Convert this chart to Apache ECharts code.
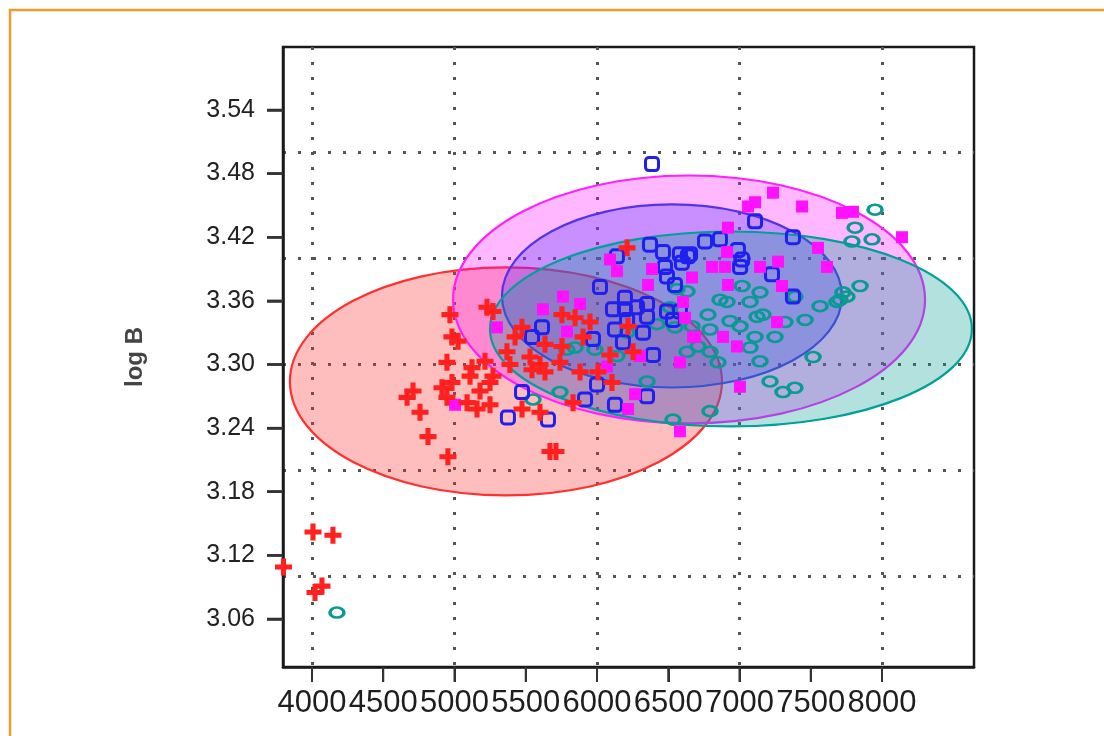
<!DOCTYPE html>
<html>
<head>
<meta charset="utf-8">
<script src="https://cdn.jsdelivr.net/npm/echarts@6/dist/echarts.min.js"></script>
<style>
html,body{margin:0;padding:0;background:#fff;}
#chart{width:1104px;height:736px;}
</style>
</head>
<body>
<div id="chart"></div>
<script>
// ---- tick labels / grid positions ----
var xTickValues = [4000, 4500, 5000, 5500, 6000, 6500, 7000, 7500, 8000];
var xGridValues = [4000, 5000, 6000, 7000, 8000];
var yTickValues = [3.06, 3.12, 3.18, 3.24, 3.30, 3.36, 3.42, 3.48, 3.54];
var yGridValues = [3.10, 3.20, 3.30, 3.40, 3.50];
var yAxisTitle = 'log B';

// ---- ellipses: [centerX, centerY, radiusX, radiusY] ----
var redEllipse = [5361, 3.284, 1516, 0.1075];
var magentaEllipse = [6646, 3.3613, 1656, 0.1169];
var blueEllipse = [6526, 3.3646, 1193, 0.0863];
var tealEllipse = [6940, 3.3335, 1691, 0.0919];

// ---- points ----
var redPoints = [
  [3800, 3.109], [4007, 3.142], [4147, 3.139], [4070, 3.091], [4021, 3.085],
  [6211, 3.410], [5270, 3.350], [5228, 3.354], [4968, 3.347], [4982, 3.326],
  [5025, 3.322], [4947, 3.302], [5123, 3.297], [5109, 3.289], [5214, 3.303],
  [5270, 3.289], [5249, 3.283], [5179, 3.275], [5368, 3.312], [5389, 3.300],
  [4912, 3.278], [4982, 3.283], [4947, 3.269], [4709, 3.275], [4667, 3.269],
  [4758, 3.255], [5088, 3.264], [5158, 3.258], [4814, 3.232], [4954, 3.213],
  [5754, 3.347], [5846, 3.344], [5951, 3.340], [5474, 3.335], [5425, 3.326],
  [5635, 3.319], [5754, 3.317], [5902, 3.326], [5530, 3.307], [5600, 3.300],
  [5740, 3.302], [5881, 3.293], [5635, 3.293], [5544, 3.295], [6091, 3.309],
  [6253, 3.312], [6105, 3.283], [5832, 3.264], [5474, 3.258], [5600, 3.255],
  [5670, 3.218], [5712, 3.218], [6218, 3.336], [5249, 3.262], [6007, 3.293]
];
var magentaPoints = [
  [5004, 3.262], [5298, 3.335], [6091, 3.399], [6140, 3.388], [5761, 3.364],
  [5881, 3.357], [5621, 3.352], [5789, 3.331], [6386, 3.390], [6358, 3.375],
  [6667, 3.382], [6604, 3.359], [6674, 3.326], [6582, 3.302], [6070, 3.298],
  [6302, 3.308], [6267, 3.272], [6218, 3.258], [6618, 3.344], [7235, 3.462],
  [7109, 3.453], [7060, 3.449], [7439, 3.449], [7719, 3.443], [7796, 3.444],
  [6919, 3.429], [8140, 3.420], [7551, 3.410], [7614, 3.392], [6912, 3.406],
  [6807, 3.392], [6898, 3.392], [7144, 3.392], [7270, 3.397], [6919, 3.375],
  [7298, 3.374], [6884, 3.326], [6982, 3.317], [7263, 3.340], [6688, 3.326],
  [7003, 3.279], [6582, 3.237]
];
var bluePoints = [
  [6386, 3.489], [6372, 3.413], [6463, 3.406], [6582, 3.404], [6653, 3.404],
  [6596, 3.396], [6140, 3.402], [6021, 3.373], [6477, 3.392], [6491, 3.383],
  [6547, 3.375], [6196, 3.363], [6112, 3.352], [6196, 3.352], [6281, 3.354],
  [6351, 3.357], [6351, 3.345], [6211, 3.342], [6126, 3.333], [6323, 3.330],
  [6491, 3.350], [6533, 3.342], [5972, 3.324], [5614, 3.335], [5544, 3.326],
  [6182, 3.321], [6393, 3.309], [6000, 3.281], [5916, 3.267], [6126, 3.262],
  [6351, 3.270], [5474, 3.274], [5375, 3.250], [5656, 3.248], [7109, 3.435],
  [7375, 3.420], [6863, 3.418], [7018, 3.399], [6638, 3.402], [7004, 3.392],
  [7375, 3.364], [6582, 3.350], [6758, 3.416], [6989, 3.408], [7228, 3.385]
];
var tealPoints = [
  [4175, 3.066], [7951, 3.446], [7811, 3.429], [7930, 3.418], [7789, 3.416],
  [7846, 3.374], [7726, 3.368], [7389, 3.364], [7144, 3.368], [7018, 3.374],
  [6912, 3.359], [7074, 3.359], [6779, 3.347], [6933, 3.341], [7004, 3.336],
  [7123, 3.345], [7165, 3.347], [7460, 3.342], [7319, 3.340], [7565, 3.355],
  [7705, 3.361], [7754, 3.364], [7684, 3.359], [7109, 3.326], [7249, 3.326],
  [7074, 3.316], [7144, 3.303], [6849, 3.302], [6632, 3.312], [6793, 3.312],
  [7516, 3.307], [7214, 3.284], [7305, 3.274], [7389, 3.278], [6793, 3.256],
  [6561, 3.371], [6632, 3.369], [6512, 3.354], [6421, 3.338], [6547, 3.335],
  [6667, 3.336], [6211, 3.330], [6140, 3.308], [5846, 3.316], [5789, 3.314],
  [5740, 3.274], [5551, 3.267], [6351, 3.284], [6533, 3.248], [6709, 3.317],
  [5986, 3.314], [6793, 3.333], [6863, 3.361]
];

var ellipseStyles = [
  {fill: 'rgba(255,40,40,0.30)', stroke: '#ff3030'},
  {fill: 'rgba(255,0,255,0.28)', stroke: '#ff20ff'},
  {fill: 'rgba(80,50,255,0.30)', stroke: '#5233ea'},
  {fill: 'rgba(0,155,145,0.30)', stroke: '#00a098'}
];
var ellipses = [redEllipse, magentaEllipse, blueEllipse, tealEllipse];

var chart = echarts.init(document.getElementById('chart'), null, {renderer: 'canvas'});

var gridDots = {color: '#555', width: 3, type: [3, 12]};
var XMIN = 3796.5, XMAX = 8645.6, YMIN = 3.0147, YMAX = 3.5994;
var FONT = 'Liberation Sans, Arial, sans-serif';
var X_TICK_LEN = 15, Y_TICK_LEN = 16;

var option = {
  backgroundColor: '#fff',
  animation: false,
  graphic: [{
    type: 'rect', id: 'frame', z: 100,
    shape: {x: 10, y: 10, width: 1300, height: 900},
    style: {fill: 'none', stroke: '#f29a2e', lineWidth: 2.5}
  }],
  grid: {
    left: 283, top: 47, width: 691, height: 620,
    show: true, borderColor: '#1a1a1a', borderWidth: 2.5, backgroundColor: 'transparent'
  },
  xAxis: [{
    type: 'value', min: XMIN, max: XMAX, position: 'bottom',
    axisLine: {show: true, lineStyle: {color: '#1a1a1a', width: 2.5}},
    axisTick: {show: true, length: X_TICK_LEN, customValues: xTickValues, lineStyle: {color: '#333', width: 2}},
    axisLabel: {
      customValues: xTickValues, margin: 21, hideOverlap: false,
      showMinLabel: true, showMaxLabel: true,
      formatter: function (v) { return String(v); },
      fontFamily: FONT, fontSize: 31, color: '#1e1e1e'
    },
    splitLine: {show: false}
  }, {
    type: 'value', min: XMIN, max: XMAX, position: 'top',
    axisLine: {show: false}, axisLabel: {show: false},
    axisTick: {show: false, customValues: xGridValues},
    splitLine: {show: true, lineStyle: gridDots}
  }],
  yAxis: [{
    type: 'value', min: YMIN, max: YMAX, position: 'left',
    name: yAxisTitle, nameLocation: 'middle', nameRotate: 90, nameGap: 136,
    nameTextStyle: {fontFamily: FONT, fontSize: 24, fontWeight: 'bold', color: '#444'},
    axisLine: {show: true, lineStyle: {color: '#1a1a1a', width: 2.5}},
    axisTick: {show: true, length: Y_TICK_LEN, customValues: yTickValues, lineStyle: {color: '#333', width: 2.5}},
    axisLabel: {
      customValues: yTickValues, margin: 28, hideOverlap: false,
      showMinLabel: true, showMaxLabel: true,
      formatter: function (v) { return v.toFixed(2); },
      fontFamily: FONT, fontSize: 25, color: '#222'
    },
    splitLine: {show: false}
  }, {
    type: 'value', min: YMIN, max: YMAX, position: 'right',
    axisLine: {show: false}, axisLabel: {show: false},
    axisTick: {show: false, customValues: yGridValues},
    splitLine: {show: true, lineStyle: gridDots}
  }],
  series: [
    {
      type: 'custom', xAxisIndex: 0, yAxisIndex: 0, z: 1,
      data: ellipses.map(function (e, i) { return [e[0], e[1], e[2], e[3], i]; }),
      renderItem: function (params, api) {
        var c = api.coord([api.value(0), api.value(1)]);
        var s = api.size([api.value(2), api.value(3)]);
        var st = ellipseStyles[api.value(4)];
        return {
          type: 'ellipse',
          shape: {cx: c[0], cy: c[1], rx: s[0], ry: s[1]},
          style: {fill: st.fill, stroke: st.stroke, lineWidth: 2.2}
        };
      },
      silent: true
    },
    {
      type: 'scatter', z: 3, data: tealPoints,
      symbol: 'circle', symbolSize: [14, 10],
      itemStyle: {color: 'rgba(0,0,0,0)', borderColor: '#0b9a92', borderWidth: 3, opacity: 1}
    },
    {
      type: 'scatter', z: 4, data: bluePoints,
      symbol: 'roundRect', symbolSize: 13,
      itemStyle: {color: 'rgba(0,0,0,0)', borderColor: '#2020ee', borderWidth: 3, opacity: 1}
    },
    {
      type: 'scatter', z: 5, data: magentaPoints,
      symbol: 'rect', symbolSize: 12,
      itemStyle: {color: '#ff10ff', opacity: 1}
    },
    {
      type: 'scatter', z: 6, data: redPoints,
      symbol: 'path://M3.5,0H6.5V3.5H10V6.5H6.5V10H3.5V6.5H0V3.5H3.5Z', symbolSize: 17,
      itemStyle: {color: '#ff2020', opacity: 1}
    }
  ]
};
chart.setOption(option);

// Tick marks placed through the chart's own axis scales.
var tickGraphics = [];
var yBottom = chart.convertToPixel({yAxisIndex: 0}, YMIN);
var xLeft = chart.convertToPixel({xAxisIndex: 0}, XMIN);
xTickValues.forEach(function (v, i) {
  var px = chart.convertToPixel({xAxisIndex: 0}, v);
  tickGraphics.push({
    type: 'line', id: 'xt' + i, z: 101, silent: true,
    shape: {x1: px, y1: yBottom, x2: px, y2: yBottom + X_TICK_LEN},
    style: {stroke: '#333', lineWidth: 2}
  });
});
yTickValues.forEach(function (v, i) {
  var py = chart.convertToPixel({yAxisIndex: 0}, v);
  tickGraphics.push({
    type: 'line', id: 'yt' + i, z: 101, silent: true,
    shape: {x1: xLeft - Y_TICK_LEN, y1: py, x2: xLeft, y2: py},
    style: {stroke: '#333', lineWidth: 2.5}
  });
});
chart.setOption({graphic: tickGraphics});
</script>
</body>
</html>
